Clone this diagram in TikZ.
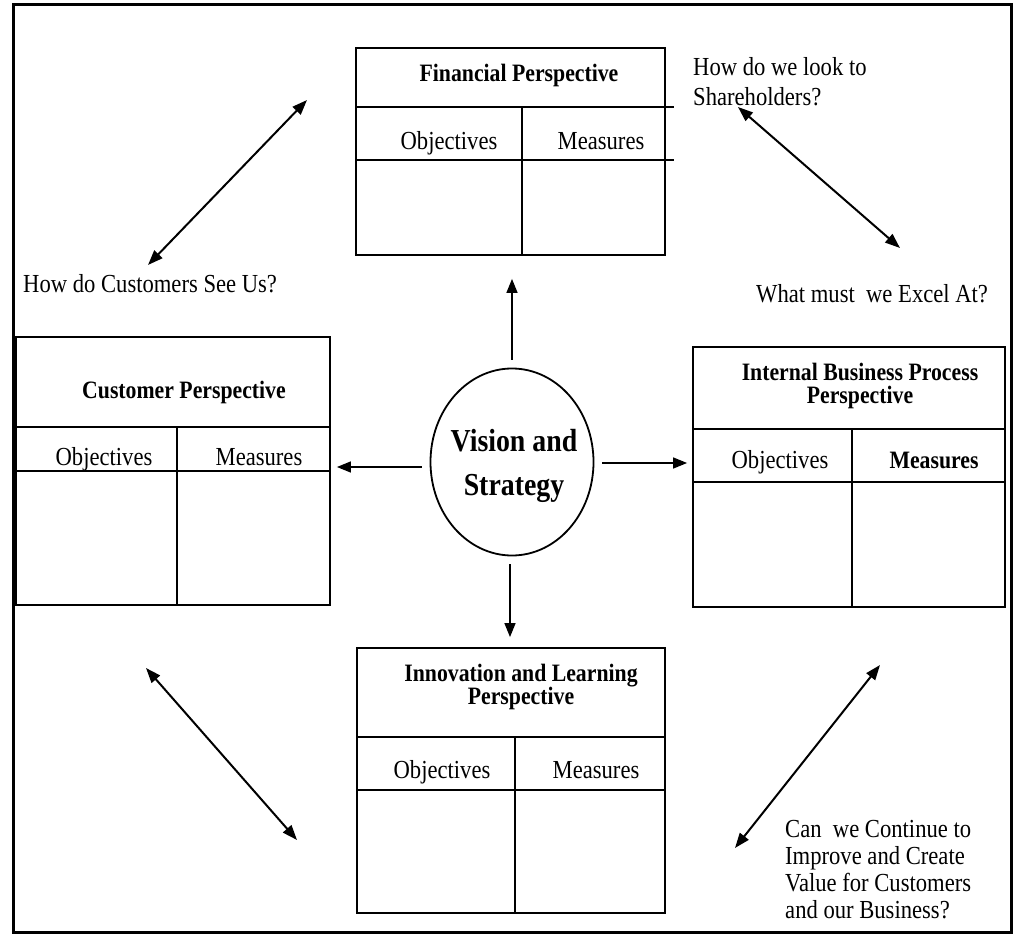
\documentclass[tikz,border=0pt]{standalone}
\usepackage{fontspec}
\setmainfont{Liberation Serif}[FakeStretch=0.87]
\usetikzlibrary{arrows.meta,positioning,calc,shapes.geometric}
\tikzset{
  frame/.style={draw=black, line width=3pt, rectangle, inner sep=0pt},
  pbox/.style={draw=black, line width=1.8pt, rectangle, inner sep=0pt},
  pline/.style={line width=1.8pt, draw=black},
  ptitle/.style={font=\fontsize{25}{23}\selectfont\bfseries, align=center, inner sep=0pt, anchor=base},
  pcell/.style={font=\fontsize{26}{28}\selectfont, inner sep=0pt, anchor=base},
  vis/.style={draw=black, line width=1.8pt, ellipse, inner sep=0pt},
  vtext/.style={font=\fontsize{32}{44}\selectfont\bfseries, align=center, inner sep=0pt},
  qtext/.style={font=\fontsize{26}{27}\selectfont, align=left, inner sep=0pt, anchor=base west},
  sflow/.style={-{Triangle[length=14pt,width=11pt]}, line width=1.4pt, draw=black},
  dflow/.style={{Triangle[length=15pt,width=11pt]}-{Triangle[length=15pt,width=11pt]}, line width=2pt, draw=black},
}
\begin{document}
\begin{tikzpicture}[x=1pt, y=-1pt]
\useasboundingbox (0,0) rectangle (1018,936);
\node[frame, minimum width=998pt, minimum height=927pt] (frm) at (512,468.5) {};

% the four perspectives
\node[pbox, minimum width=309pt, minimum height=207pt] (fin) at (510.5,151.5) {};
\node[pbox, minimum width=314pt, minimum height=268pt] (cus) at (173,471) {};
\node[pbox, minimum width=312pt, minimum height=260pt] (ibp) at (849,477) {};
\node[pbox, minimum width=308pt, minimum height=265pt] (inn) at (511,780.5) {};
\foreach \b/\h/\r/\v/\o in {fin/60/113/167/8, cus/91/135/162/0, ibp/83/136/160/0, inn/90/143/159/0}{
  \draw[pline] ($(\b.north west)+(0,\h)$) -- ($(\b.north east)+(\o,\h)$);
  \draw[pline] ($(\b.north west)+(0,\r)$) -- ($(\b.north east)+(\o,\r)$);
  \draw[pline] ($(\b.north west)+(\v,\h)$) -- ($(\b.south west)+(\v,0)$);
}
\node[ptitle] (finT) at (519,82) {Financial Perspective};
\node[ptitle] (cusT) at (184,398) {Customer Perspective};
\node[ptitle, anchor=center] (ibpT) at (860,386) {Internal Business Process\\Perspective};
\node[ptitle, anchor=center] (innT) at (521,687) {Innovation and Learning\\Perspective};
\foreach \n/\x/\y/\t in {finO/449/150/Objectives, finM/601/150/Measures, cusO/104/465/Objectives, cusM/259/465/Measures, ibpO/780/468/Objectives, innO/442/778/Objectives, innM/596/778/Measures}
  \node[pcell] (\n) at (\x,\y) {\t};
\node[pcell, font=\fontsize{25}{28}\selectfont\bfseries] (ibpM) at (934,468) {Measures};

% centre
\node[vis, minimum width=163pt, minimum height=187pt] (vis) at (512,462) {};
\node[vtext] (visT) at ($(vis.center)+(2,4)$) {Vision and\\Strategy};
\draw[sflow] ($(vis.north)+(0,-8)$) -- ($(vis.north |- fin.south)+(0,23)$);
\draw[sflow] ($(vis.south)+(-2,8)$) -- ($(vis.south |- inn.north)+(-2,-10)$);
\draw[sflow] ($(vis.west)+(-8,5)$) -- ($(vis.west -| cus.east)+(6,5)$);
\draw[sflow] ($(vis.east)+(8,1)$) -- ($(vis.east -| ibp.west)+(-5,1)$);

% questions
\coordinate (fcA) at (307,100); \coordinate (fcB) at (148,265);
\coordinate (fiA) at (738,107); \coordinate (fiB) at (900,248);
\coordinate (ciA) at (146,668); \coordinate (ciB) at (297,840);
\coordinate (iiA) at (880,665); \coordinate (iiB) at (735,848);
\foreach \a/\z in {fcA/fcB, fiA/fiB, ciA/ciB, iiA/iiB} \draw[dflow] (\a) -- (\z);
\node[qtext, anchor=north west, font=\fontsize{26}{30}\selectfont] (qSh) at (693,57) {How do we look to\\Shareholders?};
\node[qtext] (qCu) at (23,293) {How do Customers See Us?};
\node[qtext] (qEx) at (756,302) {What must\ \ we Excel At?};
\node[qtext, anchor=north west] (qIn) at (785,820) {Can\ \ we Continue to\\Improve and Create\\Value for Customers\\and our Business?};
\end{tikzpicture}
\end{document}
